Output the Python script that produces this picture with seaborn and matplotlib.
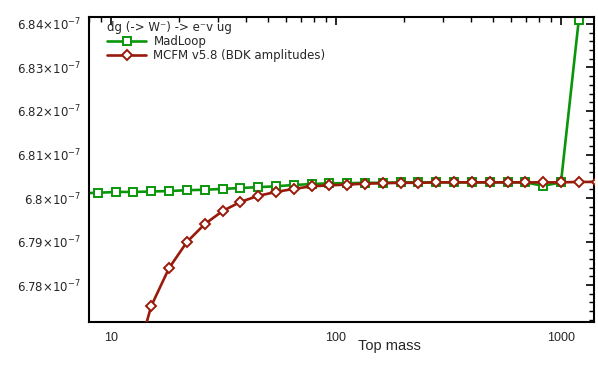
import matplotlib
matplotlib.use("Agg")
import matplotlib.pyplot as plt
import matplotlib.ticker as mticker
import seaborn as sns
import pandas as pd

# ---- data (values in units) ----
mass = [7.28, 8.735, 10.48, 12.58, 15.09, 18.11, 21.74, 26.08, 31.30, 37.56,
        45.07, 54.09, 64.91, 77.89, 93.46, 112.2, 134.6, 161.5, 193.8, 232.6,
        279.1, 334.9, 401.9, 482.3, 578.7, 694.4, 833.3, 1000.0, 1200.0, 1440.0]

madloop = [6.8011, 6.8012, 6.8014, 6.8014, 6.8015, 6.8016, 6.8018, 6.8019, 6.8021, 6.8023,
           6.8025, 6.8027, 6.8030, 6.8032, 6.8034, 6.8034, 6.8035, 6.8035, 6.8036, 6.8036,
           6.8036, 6.8036, 6.8036, 6.8036, 6.8036, 6.8036, 6.8028, 6.8036, 6.8410, 6.9000]

mass_mcfm = mass[1:]
mcfm = [6.6940, 6.7360, 6.7606, 6.7752, 6.7839, 6.7899, 6.7940, 6.7970, 6.7991,
        6.8005, 6.8014, 6.8021, 6.8027, 6.8029, 6.8031, 6.8033, 6.8034, 6.8035, 6.8035,
        6.8036, 6.8036, 6.8036, 6.8036, 6.8036, 6.8036, 6.8036, 6.8036, 6.8037, 6.8037]

scale = 1e-7
yticks = [6.78, 6.79, 6.80, 6.81, 6.82, 6.83, 6.84]
ytick_labels = ["6.78", "6.79", "6.8", "6.81", "6.82", "6.83", "6.84"]
xticks = [10, 100, 1000]
xtick_labels = ["10", "100", "1000"]

legend_title = "dg (-> W\u207b) -> e\u207bv ug"
label_madloop = "MadLoop"
label_mcfm = "MCFM v5.8 (BDK amplitudes)"
xlabel = "Top mass"

df_ml = pd.DataFrame({"mass": mass, "value": [v * scale for v in madloop]})
df_mc = pd.DataFrame({"mass": mass_mcfm, "value": [v * scale for v in mcfm]})

sns.set_theme(style="white")
plt.rcParams["font.family"] = ["DejaVu Sans"]

fig = plt.figure(figsize=(5.98, 3.68), dpi=100)
ax = fig.add_axes([89 / 598, 1 - 322 / 368, (594 - 89) / 598, (322 - 17) / 368])

green = "#0a960a"
red = "#981a0a"

sns.lineplot(data=df_ml, x="mass", y="value", ax=ax, color=green, lw=1.9,
             marker="s", markersize=5.2, markerfacecolor="white",
             markeredgecolor=green, markeredgewidth=1.4, label=label_madloop, zorder=2)
sns.lineplot(data=df_mc, x="mass", y="value", ax=ax, color=red, lw=1.9,
             marker="D", markersize=4.6, markerfacecolor="white",
             markeredgecolor=red, markeredgewidth=1.4, label=label_mcfm, zorder=3)

ax.set_xscale("log")
ax.set_xlim(7.98, 1402)
ax.set_ylim(6.77151 * scale, 6.84160 * scale)

ax.set_yticks([t * scale for t in yticks])
ax.set_yticklabels([f"{l}$\\times10^{{-7}}$" for l in ytick_labels],
                   fontsize=8.5, family="DejaVu Sans")
ax.yaxis.set_minor_locator(mticker.AutoMinorLocator(5))
ax.set_xticks(xticks)
ax.set_xticklabels(xtick_labels, fontsize=9, family="Liberation Sans")
ax.xaxis.set_minor_locator(mticker.LogLocator(base=10, subs=range(2, 10), numticks=20))
ax.xaxis.set_minor_formatter(mticker.NullFormatter())

ax.tick_params(which="both", direction="in", top=True, right=True, color="black")
ax.tick_params(which="major", length=6, width=1.2, pad=6)
ax.tick_params(which="minor", length=3.5, width=1.0)
ax.tick_params(axis="x", which="major", pad=7)
for s in ax.spines.values():
    s.set_color("black")
    s.set_linewidth(1.5)

ax.set_ylabel("")
ax.set_xlabel(xlabel, fontsize=10.5, family="Liberation Sans")
ax.xaxis.set_label_coords((389 - 89) / (594 - 89), -0.055)

leg = ax.legend(title=legend_title, loc="upper left", bbox_to_anchor=(0.02, 1.015),
                frameon=False, fontsize=8.5, title_fontsize=8.5, handlelength=3.3,
                borderpad=0.2, labelspacing=0.1, handletextpad=0.6, alignment="left")

fig.savefig("out.png", dpi=100)
